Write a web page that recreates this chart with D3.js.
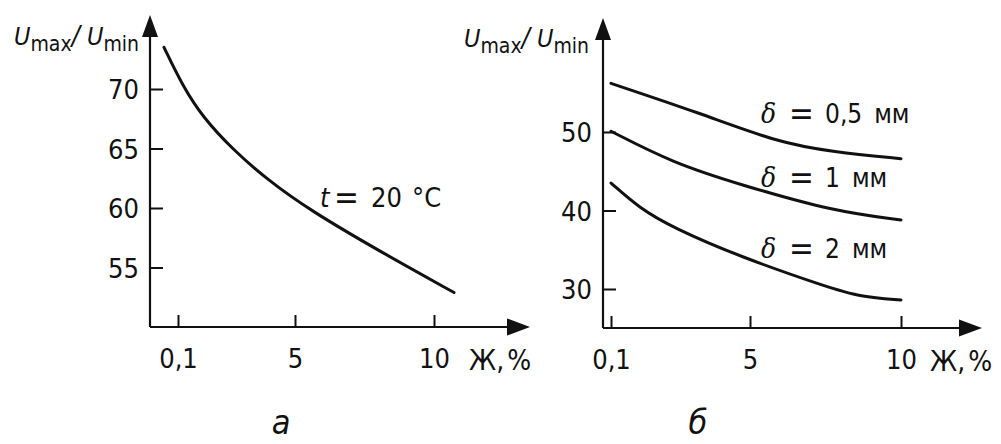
<!DOCTYPE html>
<html>
<head>
<meta charset="utf-8">
<script src="https://cdn.jsdelivr.net/npm/d3@7"></script>
<style>
  html, body { margin: 0; padding: 0; background: #fff; }
  svg { display: block; }
  text { font-family: "DejaVu Sans Condensed", "DejaVu Sans", sans-serif; font-stretch: condensed; fill: #111; }
  .tick text { font-size: 27px; }
  .tick line { stroke: #111; stroke-width: 2; }
</style>
</head>
<body>
<svg id="chart" width="1001" height="444"></svg>
<script>
// Ж, % — moisture content; ticks shown on both panels
const xTickValues = [0.1, 5, 10];
const xTickLabels = ["0,1", "5", "10"];

// Panel а: Umax/Umin at t = 20 °C
const leftTickValues = [55, 60, 65, 70];
const leftX = [0.05, 0.31, 1.15, 2.4, 3.83, 5.54, 8.17, 10.72];
const leftY = [73.5, 70.2, 67.6, 64.9, 62.4, 59.8, 56.2, 52.9];

// Panel б: Umax/Umin for three thicknesses δ
const rightTickValues = [30, 40, 50];
const deltaValues = ["0,5", "1", "2"];
const d05X = [0.1, 3.24, 5.89, 7.75, 10];
const d05Y = [56.2, 52.4, 48.7, 47.45, 46.6];
const d1X = [0.1, 2.29, 4.65, 7.75, 10];
const d1Y = [50.1, 46.05, 43.3, 39.9, 38.8];
const d2X = [0.1, 1.1, 2.29, 4.65, 7.55, 8.65, 10];
const d2Y = [43.5, 40.3, 37.8, 34.1, 30.25, 29.0, 28.6];

const svg = d3.select("#chart");

function arrowUp(x, y) {
  svg.append("path").attr("d", `M${x},${y} L${x - 8},${y + 22} L${x + 8},${y + 22} Z`).attr("fill", "#111");
}
function arrowRight(x, y) {
  svg.append("path").attr("d", `M${x},${y} L${x - 23},${y - 8.5} L${x - 23},${y + 8.5} Z`).attr("fill", "#111");
}

function yLabel(x, y) {
  const t = svg.append("text").attr("x", x).attr("y", y).attr("font-size", 25);
  t.append("tspan").attr("font-style", "italic").text("U");
  t.append("tspan").attr("font-size", 21).attr("dy", 6).text("max");
  t.append("tspan").attr("dy", -6).attr("font-style", "italic").attr("font-size", 27).text("/");
  t.append("tspan").attr("font-style", "italic").text(" U");
  t.append("tspan").attr("font-size", 21).attr("dy", 6).text("min");
}

function panel(cfg) {
  const { x, y, originX, originY, tipX, tipY, yTicks, series, xUnitX } = cfg;
  svg.append("line").attr("x1", originX).attr("x2", originX).attr("y1", originY).attr("y2", tipY + 10)
    .attr("stroke", "#111").attr("stroke-width", 2.2);
  svg.append("line").attr("x1", originX).attr("x2", tipX - 10).attr("y1", originY).attr("y2", originY)
    .attr("stroke", "#111").attr("stroke-width", 2.2);
  arrowUp(originX, tipY);
  arrowRight(tipX, originY);

  const gy = svg.append("g").attr("transform", `translate(${originX},0)`)
    .call(d3.axisLeft(y).tickValues(yTicks).tickSizeInner(-13).tickSizeOuter(0).tickPadding(11)
      .tickFormat(d3.format("d")));
  gy.select(".domain").remove();
  gy.selectAll(".tick text").attr("dy", "0.36em");

  const gx = svg.append("g").attr("transform", `translate(0,${originY})`)
    .call(d3.axisBottom(x).tickValues(xTickValues).tickSizeInner(-12).tickSizeOuter(0).tickPadding(22)
      .tickFormat((d, i) => xTickLabels[i]));
  gx.select(".domain").remove();

  const u = svg.append("text").attr("x", xUnitX).attr("y", originY + 43).attr("font-size", 28);
  u.append("tspan").text("Ж,");
  u.append("tspan").attr("dx", 3).text("%");

  const line = d3.line().x(d => x(d[0])).y(d => y(d[1])).curve(d3.curveBasis);
  series.forEach(s => {
    svg.append("path").datum(d3.zip(s[0], s[1])).attr("d", line)
      .attr("fill", "none").attr("stroke", "#111").attr("stroke-width", 3).attr("stroke-linecap", "round");
  });
}

// Panel а
const xL = d3.scaleLinear().domain([0, 0.1, 5, 10]).range([150, 178, 295, 434]);
const yL = d3.scaleLinear().domain([55, 70]).range([267.5, 89]);
panel({ x: xL, y: yL, originX: 150, originY: 327, tipX: 530, tipY: 15,
  yTicks: leftTickValues, series: [[leftX, leftY]], xUnitX: 469 });
yLabel(14, 45);

const tl = svg.append("text").attr("y", 207).attr("font-size", 27);
tl.append("tspan").attr("x", 320).attr("font-style", "italic").text("t");
tl.append("tspan").attr("x", 334).attr("y", 209).attr("font-size", 33).text("=");
tl.append("tspan").attr("x", 371).attr("y", 207).text("20");
tl.append("tspan").attr("x", 412).text("°C");

// Panel б
const xR = d3.scaleLinear().domain([0, 0.1, 5, 10]).range([603, 611, 750, 901]);
const yR = d3.scaleLinear().domain([30, 50]).range([289, 132]);
panel({ x: xR, y: yR, originX: 603, originY: 328, tipX: 982, tipY: 18,
  yTicks: rightTickValues, series: [[d05X, d05Y], [d1X, d1Y], [d2X, d2Y]], xUnitX: 930 });
yLabel(464, 47);

// curve labels, placed above each curve
const deltaBaselines = [123, 187, 258];
deltaValues.forEach((v, i) => {
  const by = deltaBaselines[i];
  const t = svg.append("text").attr("y", by).attr("font-size", 26);
  t.append("tspan").attr("x", 761).attr("font-family", "'DejaVu Serif', serif").attr("font-style", "italic")
    .attr("font-size", 28).text("δ");
  t.append("tspan").attr("x", 789).attr("y", by + 2).attr("font-size", 33).text("=");
  t.append("tspan").attr("x", 825).attr("y", by).text(v);
  t.append("tspan").attr("dx", 12).text("мм");
});

// panel captions
svg.append("text").attr("x", 281).attr("y", 434).attr("font-size", 34).attr("font-style", "italic")
  .attr("text-anchor", "middle").text("а");
svg.append("text").attr("x", 698).attr("y", 434).attr("font-size", 34).attr("font-style", "italic")
  .attr("text-anchor", "middle").text("б");
</script>
</body>
</html>
